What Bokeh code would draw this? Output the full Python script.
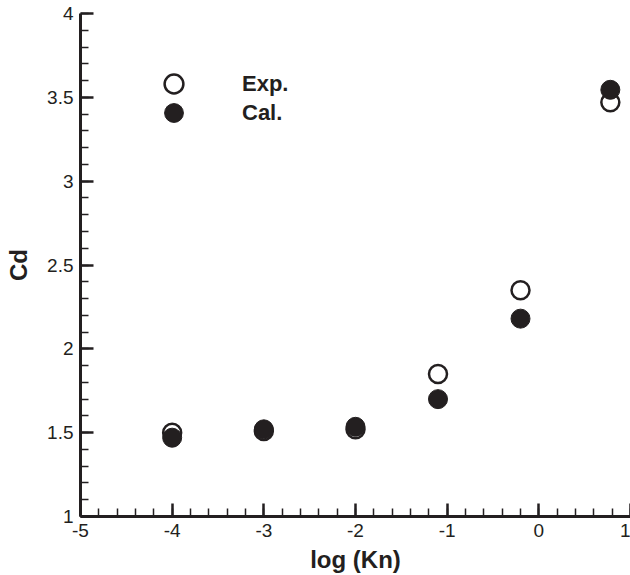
from bokeh.plotting import figure
from bokeh.models import Range1d, FixedTicker, Legend, LegendItem
from bokeh.embed import file_html
from bokeh.resources import INLINE

# data
log_kn = [-4.0, -3.0, -2.0, -1.1, -0.2, 0.78]
cd_exp = [1.50, 1.51, 1.52, 1.85, 2.35, 3.47]
cd_cal = [1.47, 1.52, 1.535, 1.70, 2.18, 3.545]
x_ticks = [-5, -4, -3, -2, -1, 0, 1]
x_tick_labels = ["-5", "-4", "-3", "-2", "-1", "0", "1"]
y_ticks = [1, 1.5, 2, 2.5, 3, 3.5, 4]
y_tick_labels = ["1", "1.5", "2", "2.5", "3", "3.5", "4"]
x_minor = [-5 + 0.2 * i for i in range(31)]
y_minor = [1 + 0.1 * i for i in range(31)]

INK = "#231f20"
FONT = "Liberation Sans"

p = figure(width=630, height=575, output_backend="svg", toolbar_location=None,
           x_range=Range1d(-5, 1), y_range=Range1d(1, 4),
           min_border_left=80, min_border_right=0, min_border_top=13, min_border_bottom=58)
p.outline_line_color = None
p.grid.visible = False
p.background_fill_color = "white"
p.border_fill_color = "white"

r_exp = p.scatter(log_kn, cd_exp, size=18, marker="circle", fill_color="white",
                  line_color=INK, line_width=2.5)
r_cal = p.scatter(log_kn, cd_cal, size=19, marker="circle", fill_color=INK,
                  line_color=INK, line_width=1)

p.xaxis.ticker = FixedTicker(ticks=x_ticks, minor_ticks=x_minor)
p.yaxis.ticker = FixedTicker(ticks=y_ticks, minor_ticks=y_minor)
p.xaxis.major_label_overrides = dict(zip(x_ticks, x_tick_labels))
p.yaxis.major_label_overrides = dict(zip(y_ticks, y_tick_labels))
p.xaxis.axis_label = "log (Kn)"
p.yaxis.axis_label = "Cd"

for ax in (p.xaxis, p.yaxis):
    ax.axis_line_width = 3
    ax.axis_line_color = INK
    ax.major_tick_in = 13
    ax.major_tick_out = 0
    ax.minor_tick_in = 8
    ax.minor_tick_out = 0
    ax.major_tick_line_width = 2.5
    ax.minor_tick_line_width = 1.5
    ax.major_tick_line_color = INK
    ax.minor_tick_line_color = INK
    ax.major_label_text_font = FONT
    ax.major_label_text_font_size = "19px"
    ax.major_label_text_color = INK
    ax.axis_label_text_font = FONT
    ax.axis_label_text_font_size = "24px"
    ax.axis_label_text_font_style = "bold"
    ax.axis_label_text_color = INK

p.xaxis.major_label_standoff = 7
p.xaxis.axis_label_standoff = 6
p.yaxis.major_label_standoff = 7
p.yaxis.axis_label_standoff = 12

def make_legend(label, renderer, loc):
    return Legend(items=[LegendItem(label=label, renderers=[renderer])],
                  location=loc, glyph_width=47, glyph_height=47, spacing=0,
                  padding=0, margin=0, label_standoff=45,
                  label_text_font=FONT, label_text_font_size="22px",
                  label_text_font_style="bold", label_text_color=INK,
                  border_line_color=None, background_fill_alpha=0)

p.add_layout(make_legend("Exp.", r_exp, (70, 409)), "center")
p.add_layout(make_legend("Cal.", r_cal, (70, 380)), "center")

open("out.html", "w").write(file_html(p, INLINE))
